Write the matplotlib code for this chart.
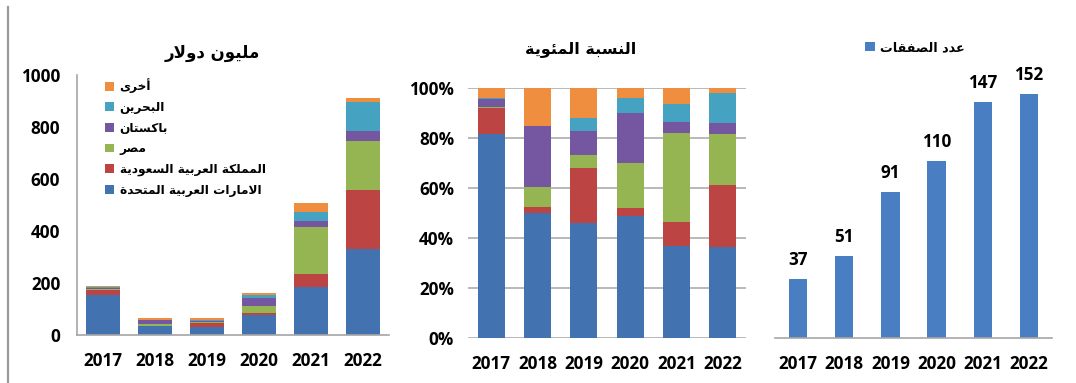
import matplotlib
matplotlib.use("Agg")
import matplotlib.pyplot as plt
from matplotlib.patches import Patch
from matplotlib.lines import Line2D
from matplotlib.ticker import FuncFormatter
import numpy as np

# ---- data -------------------------------------------------------------
years = ["2017", "2018", "2019", "2020", "2021", "2022"]

# investment value by destination, million USD
uae = [155, 33.5, 30.5, 78, 186, 330]
saudi = [20, 1.5, 14.5, 5, 49, 227]
egypt = [1, 5.5, 3.5, 29, 180, 188]
pakistan = [6, 16.5, 6.5, 32, 23, 40]
bahrain = [1, 0, 3.3, 10, 37, 110]
other = [7, 10, 7.9, 6, 31, 15]

series_names = [
    "الامارات العربية المتحدة",
    "المملكة العربية السعودية",
    "مصر",
    "باكستان",
    "البحرين",
    "أخرى",
]
series_colors = ["#4372B0", "#BC4543", "#95B552", "#7457A0", "#45A3C1", "#EE8E3E"]

# number of deals per year
deals = [37, 51, 91, 110, 147, 152]

title_value = "مليون دولار"
title_share = "النسبة المئوية"
deals_label = "عدد الصفقات"

# ---- Arabic shaping (contextual forms + right-to-left order) -----------
FORMS = {
    # letter: (isolated, final, initial, medial)
    "ا": ("\uFE8D", "\uFE8E", None, None),
    "أ": ("\uFE83", "\uFE84", None, None),
    "ئ": ("\uFE89", "\uFE8A", "\uFE8B", "\uFE8C"),
    "ب": ("\uFE8F", "\uFE90", "\uFE91", "\uFE92"),
    "ة": ("\uFE93", "\uFE94", None, None),
    "ت": ("\uFE95", "\uFE96", "\uFE97", "\uFE98"),
    "ح": ("\uFEA1", "\uFEA2", "\uFEA3", "\uFEA4"),
    "خ": ("\uFEA5", "\uFEA6", "\uFEA7", "\uFEA8"),
    "د": ("\uFEA9", "\uFEAA", None, None),
    "ر": ("\uFEAD", "\uFEAE", None, None),
    "س": ("\uFEB1", "\uFEB2", "\uFEB3", "\uFEB4"),
    "ص": ("\uFEB9", "\uFEBA", "\uFEBB", "\uFEBC"),
    "ع": ("\uFEC9", "\uFECA", "\uFECB", "\uFECC"),
    "ف": ("\uFED1", "\uFED2", "\uFED3", "\uFED4"),
    "ق": ("\uFED5", "\uFED6", "\uFED7", "\uFED8"),
    "ك": ("\uFED9", "\uFEDA", "\uFEDB", "\uFEDC"),
    "ل": ("\uFEDD", "\uFEDE", "\uFEDF", "\uFEE0"),
    "م": ("\uFEE1", "\uFEE2", "\uFEE3", "\uFEE4"),
    "ن": ("\uFEE5", "\uFEE6", "\uFEE7", "\uFEE8"),
    "و": ("\uFEED", "\uFEEE", None, None),
    "ى": ("\uFEEF", "\uFEF0", None, None),
    "ي": ("\uFEF1", "\uFEF2", "\uFEF3", "\uFEF4"),
}
LAM_ALEF = {
    "ا": ("\uFEFB", "\uFEFC", None, None),
    "أ": ("\uFEF7", "\uFEF8", None, None),
}


def shape(text):
    tokens = []
    i = 0
    while i < len(text):
        c = text[i]
        if c == "ل" and i + 1 < len(text) and text[i + 1] in LAM_ALEF:
            tokens.append(LAM_ALEF[text[i + 1]])
            i += 2
        else:
            tokens.append(FORMS.get(c, c))
            i += 1
    glyphs = []
    for k, t in enumerate(tokens):
        if isinstance(t, str):
            glyphs.append(t)
            continue
        prev = tokens[k - 1] if k > 0 else None
        nxt = tokens[k + 1] if k + 1 < len(tokens) else None
        join_prev = isinstance(prev, tuple) and prev[2] is not None
        join_next = t[2] is not None and isinstance(nxt, tuple)
        if join_prev and join_next:
            g = t[3]
        elif join_prev:
            g = t[1]
        elif join_next:
            g = t[2]
        else:
            g = t[0]
        glyphs.append(g)
    return "".join(reversed(glyphs))


# ---- styling ----------------------------------------------------------
NUM_FONT = ["Open Sans", "DejaVu Sans"]
AR_FONT = ["DejaVu Sans"]
AXIS_GREY = "#A6A6A6"
TICK_SIZE = 12.3

W, H = 1076, 383
fig = plt.figure(figsize=(W / 100, H / 100), dpi=100)
fig.patch.set_facecolor("white")


def px_axes(x0, x1, y_top, y_bot):
    return fig.add_axes([x0 / W, 1 - y_bot / H, (x1 - x0) / W, (y_bot - y_top) / H])


def style_ticks(ax, xpad, ypad):
    ax.tick_params(axis="both", length=0)
    ax.tick_params(axis="x", pad=xpad)
    ax.tick_params(axis="y", pad=ypad)
    for lab in ax.get_xticklabels() + ax.get_yticklabels():
        lab.set_fontfamily(NUM_FONT)
        lab.set_fontweight("bold")
        lab.set_fontsize(TICK_SIZE)


series = [uae, saudi, egypt, pakistan, bahrain, other]
x = np.arange(len(years))

# ---- left panel: stacked values ----------------------------------------
ax1 = px_axes(77, 389, 75, 335)
bottom = np.zeros(len(years))
for vals, col in zip(series, series_colors):
    ax1.bar(x, vals, 0.64, bottom=bottom, color=col, zorder=2)
    bottom += np.array(vals)
ax1.set_xlim(-0.5, len(years) - 0.5)
ax1.set_ylim(0, 1000)
ax1.set_yticks([0, 200, 400, 600, 800, 1000])
ax1.set_xticks(x, years)
for s in ["top", "right"]:
    ax1.spines[s].set_visible(False)
for s in ["left", "bottom"]:
    ax1.spines[s].set_color(AXIS_GREY)
    ax1.spines[s].set_linewidth(1.2)
style_ticks(ax1, 12, 12)
ax1.text(0.435, 1.0 + 22 / 260, shape(title_value), transform=ax1.transAxes,
         ha="center", va="center", fontsize=12, fontweight="bold", family=AR_FONT)

handles = [Patch(facecolor=c, edgecolor="none") for c in series_colors][::-1]
labels = [shape(n) for n in series_names][::-1]
ax1.legend(handles, labels, loc="upper left", bbox_to_anchor=(0.075, 1.005),
           frameon=False, handlelength=0.75, handleheight=0.75, handletextpad=0.45,
           labelspacing=0.63, borderaxespad=0.0,
           prop={"family": AR_FONT, "weight": "bold", "size": 8.7})

# ---- middle panel: shares (100% stacked) -------------------------------
ax2 = px_axes(468, 746, 88, 338)
totals = np.sum(np.array(series, dtype=float), axis=0)
bottom = np.zeros(len(years))
for vals, col in zip(series, series_colors):
    share = np.array(vals) / totals
    ax2.bar(x, share, 0.58, bottom=bottom, color=col, zorder=2)
    bottom += share
ax2.set_xlim(-0.5, len(years) - 0.5)
ax2.set_yticks(np.arange(0, 1.01, 0.2))
ax2.yaxis.set_major_formatter(FuncFormatter(lambda v, _: f"{v * 100:.0f}%"))
ax2.set_xticks(x, years)
ax2.grid(axis="y", color=AXIS_GREY, linewidth=1.1, zorder=0)
ax2.set_axisbelow(True)
for s in ax2.spines.values():
    s.set_visible(False)
style_ticks(ax2, 12, 10)
ax2.set_ylim(-0.002, 1.002)
ax2.text(0.405, 1.0 + 39 / 250, shape(title_share), transform=ax2.transAxes,
         ha="center", va="center", fontsize=11.5, fontweight="bold", family=AR_FONT)

# ---- right panel: number of deals ---------------------------------------
ax3 = px_axes(775, 1052, 88.7, 338.3)
bars = ax3.bar(x, deals, 0.4, color="#4A7EC2", zorder=2)
ax3.set_xlim(-0.5, len(years) - 0.5)
ax3.set_ylim(0, 155)
ax3.set_yticks([])
ax3.set_xticks(x, years)
for s in ["top", "right", "left"]:
    ax3.spines[s].set_visible(False)
ax3.spines["bottom"].set_color(AXIS_GREY)
ax3.spines["bottom"].set_linewidth(1.2)
style_ticks(ax3, 12, 0)
ax3.bar_label(bars, labels=[str(d) for d in deals], padding=7,
              fontsize=TICK_SIZE, fontweight="bold", family=NUM_FONT)
ax3.legend([Patch(facecolor="#4A7EC2", edgecolor="none")], [shape(deals_label)],
           loc="center", bbox_to_anchor=(0.505, 1.0 + 41 / 250), frameon=False,
           handlelength=0.75, handleheight=0.75, handletextpad=0.4,
           borderaxespad=0.0, prop={"family": AR_FONT, "weight": "bold", "size": 9.2})

# thin frame line along the left edge
fig.add_artist(Line2D([8 / W, 8 / W], [0, 1 - 7 / H], color="#9A9A9A", linewidth=1.6))

fig.savefig("out.png", dpi=100, facecolor="white")
